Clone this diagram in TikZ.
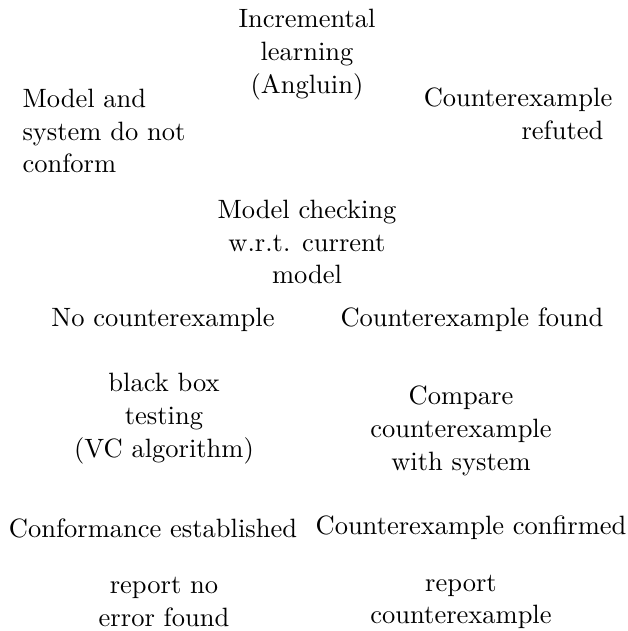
\documentclass[tikz,border=0pt]{standalone}
\usepackage{amsfonts}
\usepackage{amsmath}
\usepackage{tikz}

\begin{document}
\begin{tikzpicture}[lbl/.style={align=center, inner sep=0pt, font=\fontsize{10.95}{13.6}\selectfont}]
    \useasboundingbox (0,0) rectangle (9.121,-9.165);
    \begin{scope}
      \node[lbl] (learn) at (4.459,-0.799) {Incremental\\learning\\(Angluin)};
      \node[lbl, align=left, anchor=west] (noconf) at (0.32,-1.903) {Model and\\system do not\\conform};
      \node[lbl, align=right, anchor=east] (refuted) at (8.90,-1.656) {Counterexample\\refuted\hspace*{3.7pt}};
      \node[lbl] (check) at (4.459,-3.515) {Model checking\\w.r.t. current\\model};
      \node[lbl] (nocex) at (2.367,-4.648) {No counterexample};
      \node[lbl] (cexfound) at (6.855,-4.648) {Counterexample found};
      \node[lbl] (testing) at (2.382,-6.086) {black box\\testing\\(VC algorithm)};
      \node[lbl] (compare) at (6.696,-6.260) {Compare\\counterexample\\with system};
      \node[lbl] (established) at (2.222,-7.669) {Conformance established};
      \node[lbl] (confirmed) at (6.841,-7.669) {Counterexample confirmed};
      \node[lbl] (noerror) at (2.382,-8.743) {report no\\error found};
      \node[lbl] (report) at (6.696,-8.743) {report\\counterexample};
    \end{scope}
  \end{tikzpicture}
\end{document}
